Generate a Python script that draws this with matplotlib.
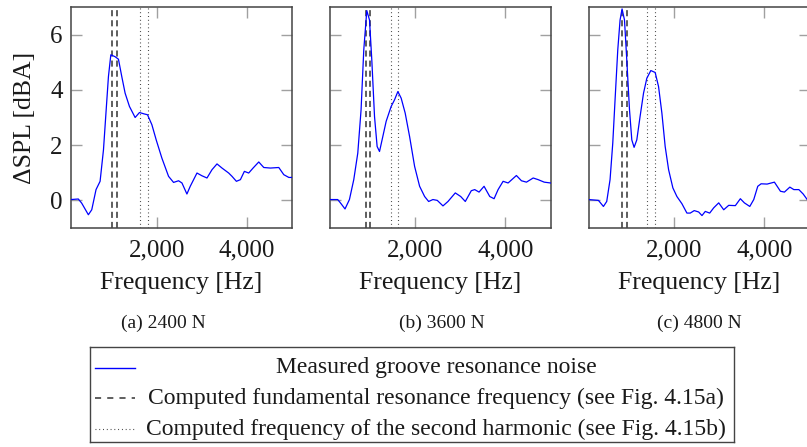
import matplotlib
matplotlib.use("Agg")
import matplotlib.pyplot as plt
from matplotlib.ticker import FuncFormatter, FixedLocator

plt.rcParams['font.family'] = ['Liberation Serif', 'DejaVu Serif']

# measured groove resonance noise (delta SPL in dBA over frequency in Hz)
freq_a = [100, 262, 337, 485, 560, 655, 745, 820, 880, 930, 983, 1078, 1152, 1226,
          1300, 1396, 1522, 1618, 1722, 1796, 1893, 1989, 2115, 2263, 2374, 2485,
          2560, 2670, 2744, 2893, 3004, 3115, 3226, 3337, 3448, 3596, 3670, 3767,
          3856, 3944, 4040, 4137, 4263, 4374, 4522, 4707, 4818, 4930, 5000]
spl_a = [0.03, 0.05, -0.1, -0.52, -0.34, 0.39, 0.69, 1.83, 3.28, 4.48, 5.27, 5.2,
         5.11, 4.48, 3.88, 3.4, 3.0, 3.18, 3.13, 3.1, 2.74, 2.19, 1.53, 0.87, 0.65,
         0.71, 0.63, 0.23, 0.51, 0.99, 0.89, 0.81, 1.11, 1.32, 1.17, 0.99, 0.87,
         0.69, 0.75, 1.05, 0.99, 1.17, 1.39, 1.19, 1.17, 1.19, 0.93, 0.83, 0.83]

freq_b = [100, 282, 356, 444, 542, 638, 727, 800, 860, 927, 987, 1038, 1098, 1156,
          1209, 1282, 1356, 1467, 1542, 1616, 1689, 1778, 1876, 1987, 2098, 2209,
          2298, 2393, 2489, 2616, 2727, 2889, 3009, 3111, 3244, 3320, 3416, 3527,
          3653, 3749, 3838, 3949, 4060, 4244, 4356, 4467, 4616, 4727, 4860, 5000]
spl_b = [0.03, 0.03, -0.12, -0.31, 0.03, 0.75, 1.71, 3.28, 5.45, 6.87, 6.53, 5.08,
         3.04, 1.95, 1.77, 2.31, 2.86, 3.4, 3.64, 3.94, 3.7, 3.16, 2.31, 1.23, 0.51,
         0.14, -0.04, 0.03, 0.0, -0.2, -0.04, 0.27, 0.14, -0.04, 0.35, 0.39, 0.3,
         0.51, 0.14, 0.06, 0.39, 0.69, 0.63, 0.9, 0.71, 0.66, 0.81, 0.75, 0.66, 0.63]

freq_c = [100, 320, 431, 504, 578, 638, 689, 749, 800, 844, 898, 949, 1009, 1060,
          1111, 1171, 1244, 1320, 1393, 1482, 1578, 1653, 1727, 1800, 1876, 1971,
          2060, 2171, 2282, 2356, 2444, 2542, 2616, 2689, 2787, 2876, 2987, 3098,
          3209, 3356, 3467, 3556, 3676, 3764, 3853, 3927, 4060, 4222, 4356, 4444,
          4564, 4653, 4764, 4860, 4949, 5000]
spl_c = [0.03, 0.0, -0.22, -0.04, 0.75, 2.07, 3.64, 5.45, 6.53, 6.93, 6.53, 5.08,
         3.28, 2.19, 1.92, 2.19, 3.04, 3.88, 4.42, 4.7, 4.63, 4.12, 3.16, 1.95, 1.11,
         0.45, 0.14, -0.12, -0.46, -0.46, -0.37, -0.42, -0.55, -0.4, -0.46, -0.27,
         -0.09, -0.34, -0.18, -0.19, 0.06, -0.09, -0.22, 0.03, 0.51, 0.6, 0.59, 0.66,
         0.33, 0.3, 0.48, 0.39, 0.39, 0.23, 0.03, -0.05]

# computed frequencies (Hz)
fundamental = [[1004, 1115], [920, 1000], [838, 949]]
harmonic = [[1633, 1818], [1453, 1616], [1393, 1564]]

captions = ['(a) 2400 N', '(b) 3600 N', '(c) 4800 N']
legend_labels = ['Measured groove resonance noise',
                 'Computed fundamental resonance frequency (see Fig. 4.15a)',
                 'Computed frequency of the second harmonic (see Fig. 4.15b)']

W, H = 807, 447
fig = plt.figure(figsize=(W / 100, H / 100), dpi=100)

spine_col = '#444444'
tick_col = '#a0a0a0'
text_col = '#1a1a1a'
dash_style = (0, (4, 2.6))
dot_style = (0, (0.8, 2.6))

series = [(freq_a, spl_a), (freq_b, spl_b), (freq_c, spl_c)]
lefts = [71, 329.5, 588.5]
caption_x = [163, 442, 699]
for i, (f, s) in enumerate(series):
    ax = fig.add_axes([lefts[i] / W, (H - 228) / H, 221 / W, 221 / H])
    ax.plot(f, s, color='#0000ff', lw=0.9, zorder=3)
    for xv in fundamental[i]:
        ax.axvline(xv, color='#333333', lw=1.1, ls=dash_style, zorder=2)
    for xv in harmonic[i]:
        ax.axvline(xv, color='#333333', lw=0.8, ls=dot_style, zorder=2)
    ax.set_xlim(100, 5000)
    ax.set_ylim(-1, 7)
    ax.xaxis.set_major_locator(FixedLocator([2000, 4000]))
    ax.yaxis.set_major_locator(FixedLocator([0, 2, 4, 6]))
    ax.xaxis.set_major_formatter(FuncFormatter(lambda v, p: f'{int(v):,}'))
    ax.tick_params(direction='in', length=8, width=1.0, color=tick_col,
                   top=True, right=True, labelsize=18, labelcolor=text_col, pad=6)
    ax.tick_params(axis='x', pad=8)
    for sp in ax.spines.values():
        sp.set_color(spine_col)
        sp.set_linewidth(1.1)
    ax.set_xlabel('Frequency [Hz]', fontsize=18.5, color=text_col, labelpad=8)
    if i == 0:
        ax.set_ylabel('ΔSPL [dBA]', fontsize=18.5, color=text_col, labelpad=10)
    else:
        ax.tick_params(labelleft=False)
    fig.text(caption_x[i] / W, (H - 323) / H, captions[i], fontsize=14,
             color=text_col, ha='center', va='center')

# legend box
lx0, lx1, ly0, ly1 = 90, 734, 347, 442
lax = fig.add_axes([lx0 / W, (H - ly1) / H, (lx1 - lx0) / W, (ly1 - ly0) / H])
lax.set_xlim(lx0, lx1)
lax.set_ylim(ly1, ly0)
lax.set_xticks([])
lax.set_yticks([])
for sp in lax.spines.values():
    sp.set_color(spine_col)
    sp.set_linewidth(1.0)
rows = [368, 398, 429]
styles = [dict(color='#0000ff', lw=1.0, ls='-'),
          dict(color='#333333', lw=1.1, ls=(0, (4, 4))),
          dict(color='#333333', lw=0.8, ls=dot_style)]
for y, lab, st in zip(rows, legend_labels, styles):
    lax.plot([95, 135], [y, y], **st)
    lax.text(436, y, lab, fontsize=17, color=text_col, ha='center', va='center')

fig.savefig('out.png', dpi=100)
